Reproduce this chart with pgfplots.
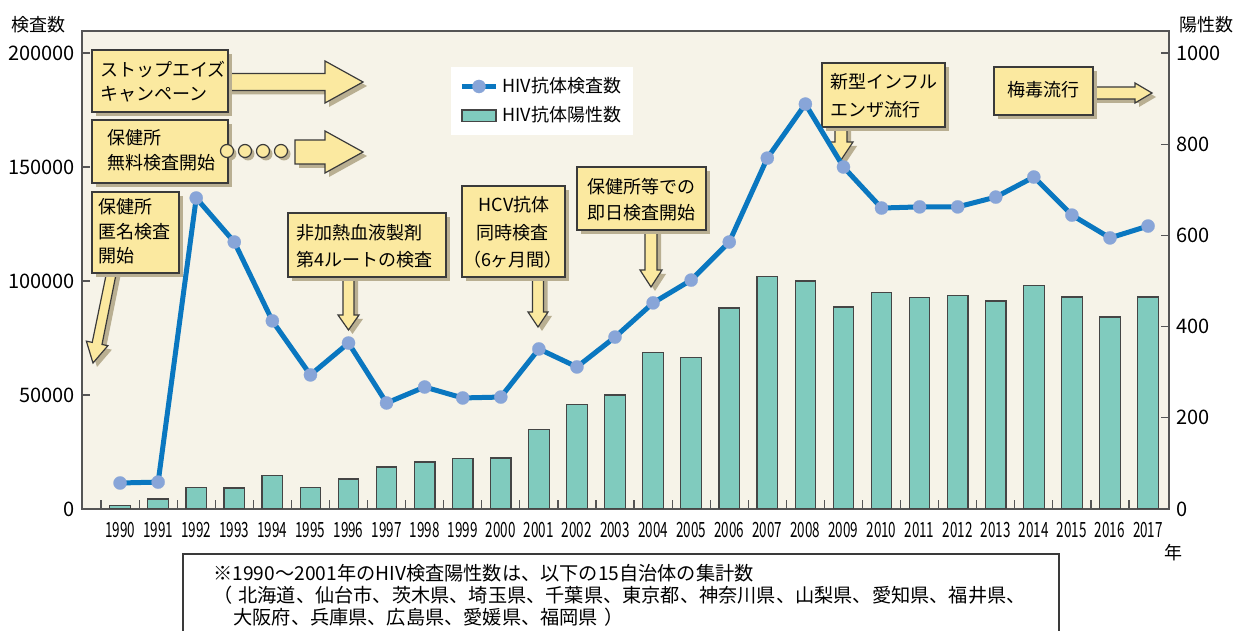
\documentclass[border=0pt]{standalone}
\usepackage{pgfplots}
\pgfplotsset{compat=1.18}
\usepackage{fontspec}
\setmainfont{Noto Sans CJK JP}
\newfontfamily\condfont[FakeStretch=0.64]{Noto Sans CJK JP}
\definecolor{bgc}{HTML}{F6F3E8}
\definecolor{barc}{HTML}{80CBBE}
\definecolor{baredge}{HTML}{454545}
\definecolor{linec}{HTML}{0A77C0}
\definecolor{markc}{HTML}{88A5D8}
\definecolor{callc}{HTML}{FBE9A0}
\definecolor{edgec}{HTML}{3A3A3A}
\definecolor{shadc}{HTML}{B9AF92}
\definecolor{axcol}{HTML}{555555}

\newcommand\cfont{\fontsize{9}{10}\selectfont}
% box: x1 y1 x2 y2
\newcommand\cbox[4]{%
  \fill[shadc,shift={(4,4)}] (#1,#2) rectangle (#3,#4);
  \draw[edgec,fill=callc,line width=0.6pt] (#1,#2) rectangle (#3,#4);}
% down arrow: xc y0 y1 y2 hs hh
\newcommand\darrowpath[6]{({#1-#5},#2) -- ({#1-#5},#3) -- ({#1-#6},#3) -- (#1,#4) -- ({#1+#6},#3) -- ({#1+#5},#3) -- ({#1+#5},#2) -- cycle}
\newcommand\darrow[6]{%
  \fill[shadc,shift={(4,4)}] \darrowpath{#1}{#2}{#3}{#4}{#5}{#6};
  \draw[edgec,fill=callc,line width=0.6pt] \darrowpath{#1}{#2}{#3}{#4}{#5}{#6};}
% right arrow: yc x0 x1 x2 hs hh
\newcommand\rarrowpath[6]{(#2,{#1-#5}) -- (#3,{#1-#5}) -- (#3,{#1-#6}) -- (#4,#1) -- (#3,{#1+#6}) -- (#3,{#1+#5}) -- (#2,{#1+#5}) -- cycle}
\newcommand\rarrow[6]{%
  \fill[shadc,shift={(4,4)}] \rarrowpath{#1}{#2}{#3}{#4}{#5}{#6};
  \draw[edgec,fill=callc,line width=0.6pt] \rarrowpath{#1}{#2}{#3}{#4}{#5}{#6};}

\pgfplotstableread{
year pos
1990 7
1991 22
1992 48
1993 46
1994 73
1995 48
1996 66
1997 92
1998 103
1999 110
2000 112
2001 175
2002 230
2003 250
2004 344
2005 333
2006 441
2007 509
2008 500
2009 443
2010 474
2011 463
2012 469
2013 456
2014 491
2015 465
2016 421
2017 465
}\postable

\pgfplotstableread{
year tests
1990 11400
1991 11800
1992 136400
1993 117100
1994 82500
1995 58800
1996 72800
1997 46500
1998 53500
1999 48700
2000 49100
2001 70200
2002 62300
2003 75400
2004 90400
2005 100400
2006 117100
2007 153900
2008 177600
2009 150000
2010 132000
2011 132500
2012 132500
2013 136800
2014 145600
2015 128900
2016 118900
2017 124100
}\testtable

\begin{document}
\begin{tikzpicture}
\path[use as bounding box] (-41pt,-61pt) rectangle (583.5pt,254.5pt);

% ---- bars, right axis
\begin{axis}[
  scale only axis, width=543.5pt, height=239pt,
  at={(0,0)}, anchor=south west,
  xmin=1989, xmax=2017.55, ymin=0, ymax=1048.25,
  axis background/.style={fill=bgc},
  axis line style={draw=axcol, line width=0.8pt},
  /pgf/number format/.cd, fixed, precision=0, 1000 sep={}, assume math mode=true, /pgfplots/.cd,
  ytick={0,200,...,1000}, ytick pos=right, yticklabel pos=right,
  xtick={1990,...,2017}, xtick pos=left,
  minor xtick={1989.5,1990.5,...,2016.5},
  tick align=inside,
  major tick length=4pt, minor tick length=4.5pt,
  major x tick style={draw=none},
  minor x tick style={draw=axcol, line width=0.6pt},
  ytick style={draw=axcol, line width=0.6pt},
  yticklabel style={font=\fontsize{10}{10}\selectfont},
  xticklabel style={font=\condfont\fontsize{10.5}{10.5}\selectfont, yshift=-3pt},
]
\addplot[ybar, bar width=0.54, fill=barc, draw=baredge, line width=0.6pt] table[x=year,y=pos] {\postable};
\end{axis}

% ---- callouts
\begin{scope}[shift={(-41pt,254.5pt)}, x=0.5pt, y=-0.5pt]
% A
\rarrow{82}{228}{325}{363}{8.5}{21}
\cbox{92}{50}{228}{112}
\node[anchor=west,inner sep=0,font=\cfont] at (100,70) {ストップエイズ};
\node[anchor=west,inner sep=0,font=\cfont] at (100,94) {キャンペーン};
% B
\foreach \cx in {227,245,263,281} {
  \fill[shadc] (\cx+3,154) circle (6.5);
}
\rarrow{152}{295}{325}{363}{12}{21}
\cbox{92}{120}{228}{183}
\foreach \cx in {227,245,263,281} {
  \draw[edgec,fill=callc,line width=0.6pt] (\cx,151) circle (6.5);
}
\node[anchor=west,inner sep=0,font=\cfont] at (107,138) {保健所};
\node[anchor=west,inner sep=0,font=\cfont] at (107,163) {無料検査開始};
% C (slanted arrow)
\fill[shadc,shift={(4,4)}] (107.1,270) -- (92.24,342.4) -- (86.37,341.16) -- (93,363) -- (107.89,345.7) -- (102.0,344.46) -- (116.9,270) -- cycle;
\draw[edgec,fill=callc,line width=0.6pt] (107.1,270) -- (92.24,342.4) -- (86.37,341.16) -- (93,363) -- (107.89,345.7) -- (102.0,344.46) -- (116.9,270) -- cycle;
\cbox{92}{192}{179}{273}
\node[anchor=west,inner sep=0,font=\cfont] at (98,207) {保健所};
\node[anchor=west,inner sep=0,font=\cfont] at (98,232) {匿名検査};
\node[anchor=west,inner sep=0,font=\cfont] at (98,256) {開始};
% D
\darrow{348.5}{274}{315}{330}{5.5}{10.5}
\cbox{288}{213}{446}{277}
\node[anchor=west,inner sep=0,font=\cfont] at (296,233) {非加熱血液製剤};
\node[anchor=west,inner sep=0,font=\cfont] at (296,260) {第4ルートの検査};
% E
\darrow{538}{274}{312}{327}{5.5}{10}
\cbox{462}{186}{565}{277}
\node[inner sep=0,font=\cfont] at (514,205) {HCV抗体};
\node[inner sep=0,font=\cfont] at (512,233) {同時検査};
\node[inner sep=0,font=\cfont] at (513,260) {（6ヶ月間）};
% F
\darrow{651}{227}{270}{287}{6}{11}
\cbox{577}{167}{706}{230}
\node[anchor=west,inner sep=0,font=\cfont] at (587,187) {保健所等での};
\node[anchor=west,inner sep=0,font=\cfont] at (587,213) {即日検査開始};
% G
\darrow{841}{124}{142}{160}{6}{12}
\cbox{822}{63}{945}{127}
\node[anchor=west,inner sep=0,font=\cfont] at (830,82) {新型インフル};
\node[anchor=west,inner sep=0,font=\cfont] at (830,110) {エンザ流行};
% H
\rarrow{93}{1090}{1135}{1152}{6}{10}
\cbox{994}{67}{1093}{115}
\node[inner sep=0,font=\cfont] at (1043,90) {梅毒流行};
\end{scope}

% ---- line, left axis
\begin{axis}[
  scale only axis, width=543.5pt, height=239pt,
  at={(0,0)}, anchor=south west,
  xmin=1989, xmax=2017.55, ymin=0, ymax=209650,
  axis line style={draw=none},
  /pgf/number format/.cd, fixed, precision=0, 1000 sep={}, assume math mode=true, /pgfplots/.cd,
  scaled y ticks=false,
  xtick=\empty,
  ytick={0,50000,...,200000}, ytick pos=left,
  tick align=inside, major tick length=4pt,
  ytick style={draw=axcol, line width=0.6pt},
  yticklabel style={font=\fontsize{10}{10}\selectfont},
  clip=false,
  legend style={at={(rel axis cs:0.3395,0.9247)}, anchor=north west,
    draw=none, fill=white, inner xsep=4pt, inner ysep=3pt,
    font=\fontsize{9}{10}\selectfont, row sep=1.5pt},
  legend cell align=left,
]
\addplot[color=linec, line width=2.5pt, mark=*, mark size=3.3pt,
  mark options={fill=markc, draw=markc, line width=0.1pt}] table[x=year,y=tests] {\testtable};
\addlegendentry{HIV抗体検査数}
\addlegendimage{area legend, fill=barc, draw=baredge, line width=0.6pt}
\addlegendentry{HIV抗体陽性数}
\end{axis}

% ---- labels and note
\begin{scope}[shift={(-41pt,254.5pt)}, x=0.5pt, y=-0.5pt]
\node[inner sep=0,font=\fontsize{9}{10}\selectfont] at (39,25) {検査数};
\node[inner sep=0,font=\fontsize{9}{10}\selectfont] at (1206,25) {陽性数};
\node[inner sep=0,font=\fontsize{9}{10}\selectfont] at (1173,553) {年};
\draw[edgec,fill=white,line width=0.6pt] (183,554) rectangle (1059,660);
\node[anchor=west,inner sep=0,font=\fontsize{9.6}{10}\selectfont] at (213,573) {※1990～2001年のHIV検査陽性数は、以下の15自治体の集計数};
\node[anchor=west,inner sep=0,font=\fontsize{9.6}{10}\selectfont] at (213,595) {（\hspace{3pt}北海道、仙台市、茨木県、埼玉県、千葉県、東京都、神奈川県、山梨県、愛知県、福井県、};
\node[anchor=west,inner sep=0,font=\fontsize{9.6}{10}\selectfont] at (233,617) {大阪府、兵庫県、広島県、愛媛県、福岡県\hspace{3pt}）};
\end{scope}
\end{tikzpicture}
\end{document}
